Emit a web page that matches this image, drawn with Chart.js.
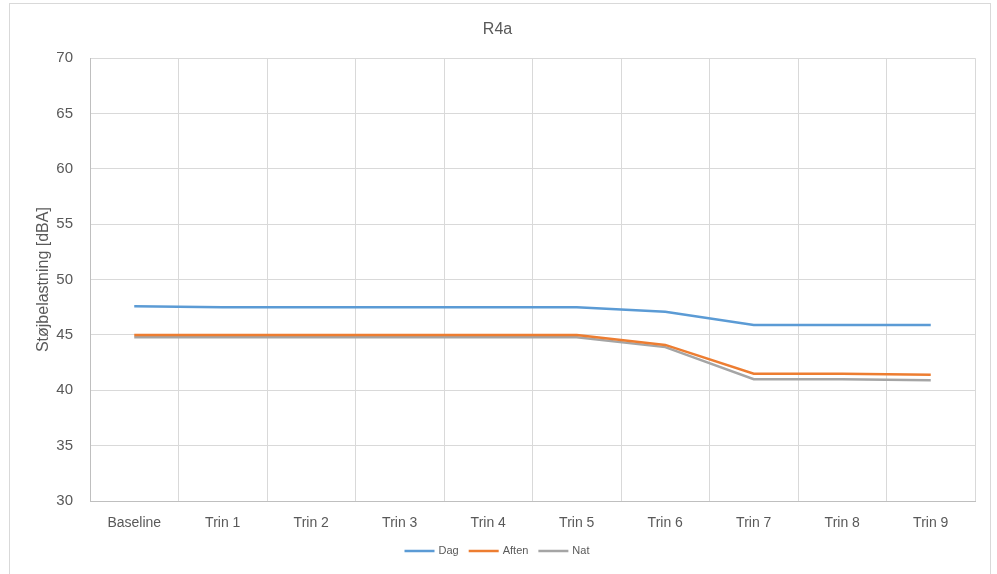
<!DOCTYPE html>
<html>
<head>
<meta charset="utf-8">
<script src="https://cdn.jsdelivr.net/npm/chart.js@4/dist/chart.umd.min.js"></script>
<style>
  html, body { margin: 0; padding: 0; background: #fff; }
  #wrap { position: relative; width: 997px; height: 574px; }
  canvas { display: block; }
</style>
</head>
<body>
<div id="wrap"><canvas id="c" width="997" height="574"></canvas></div>
<script>
const categories = ['Baseline', 'Trin 1', 'Trin 2', 'Trin 3', 'Trin 4', 'Trin 5', 'Trin 6', 'Trin 7', 'Trin 8', 'Trin 9'];
const dag   = [47.6, 47.5, 47.5, 47.5, 47.5, 47.5, 47.1, 45.9, 45.9, 45.9];
const aften = [45.0, 45.0, 45.0, 45.0, 45.0, 45.0, 44.1, 41.5, 41.5, 41.4];
const nat   = [44.8, 44.8, 44.8, 44.8, 44.8, 44.8, 43.9, 41.0, 41.0, 40.9];

const FONT = "'Liberation Sans', 'DejaVu Sans', sans-serif";
const TXT = '#595959';

// frame around the whole chart object
const framePlugin = {
  id: 'frame',
  beforeDraw(chart) {
    const ctx = chart.ctx;
    ctx.save();
    ctx.fillStyle = '#fff';
    ctx.fillRect(0, 0, chart.width, chart.height);
    ctx.strokeStyle = '#d9d9d9';
    ctx.lineWidth = 1;
    ctx.strokeRect(9.5, 3.5, 981, 600);
    ctx.restore();
  }
};

// bottom legend: a line sample followed by the series name, centred
const lineLegend = {
  id: 'lineLegend',
  afterDraw(chart) {
    const ctx = chart.ctx;
    const y = 551;
    const sample = 30, gapText = 4, gapItem = 10;
    ctx.save();
    ctx.font = '11px ' + FONT;
    ctx.textBaseline = 'middle';
    const items = chart.data.datasets.map(ds => ({
      ds, w: sample + gapText + ctx.measureText(ds.label).width
    }));
    const total = items.reduce((s, it) => s + it.w, 0) + gapItem * (items.length - 1);
    let x = 497 - total / 2;
    items.forEach(it => {
      ctx.strokeStyle = it.ds.borderColor;
      ctx.lineWidth = 2.5;
      ctx.beginPath();
      ctx.moveTo(x, y);
      ctx.lineTo(x + sample, y);
      ctx.stroke();
      ctx.fillStyle = TXT;
      ctx.fillText(it.ds.label, x + sample + gapText, y);
      x += it.w + gapItem;
    });
    ctx.restore();
  }
};

function series(label, data, color) {
  return {
    label, data,
    borderColor: color,
    backgroundColor: color,
    borderWidth: 2.5,
    pointRadius: 0,
    pointHoverRadius: 0,
    tension: 0,
    fill: false
  };
}

new Chart(document.getElementById('c'), {
  type: 'line',
  data: {
    labels: categories,
    datasets: [
      series('Dag', dag, '#5B9BD5'),
      series('Aften', aften, '#ED7D31'),
      series('Nat', nat, '#A5A5A5')
    ]
  },
  options: {
    responsive: false,
    animation: false,
    events: [],
    layout: { padding: { left: 20, right: 22, top: 16, bottom: 33 } },
    plugins: {
      title: {
        display: true,
        text: 'R4a',
        color: TXT,
        font: { family: FONT, size: 16, weight: 'normal' },
        padding: { top: 4, bottom: 19 }
      },
      legend: { display: false },
      tooltip: { enabled: false }
    },
    scales: {
      x: {
        offset: true,
        grid: { display: true, offset: true, color: '#d9d9d9', drawTicks: false },
        border: { display: true, color: '#bfbfbf' },
        ticks: { color: TXT, font: { family: FONT, size: 14 }, padding: 14, maxRotation: 0, autoSkip: false },
        afterFit(scale) { scale.height = 40; }
      },
      y: {
        min: 30,
        max: 70,
        ticks: { stepSize: 5, color: TXT, font: { family: FONT, size: 15 }, padding: 17 },
        grid: { color: '#d9d9d9', drawTicks: false },
        border: { display: true, color: '#bfbfbf' },
        title: {
          display: true,
          text: 'Støjbelastning [dBA]',
          color: TXT,
          font: { family: FONT, size: 16, weight: 'normal' },
          padding: { top: 14, bottom: 4 }
        },
        afterFit(scale) { scale.width = 70; }
      }
    }
  },
  plugins: [framePlugin, lineLegend]
});
</script>
</body>
</html>
